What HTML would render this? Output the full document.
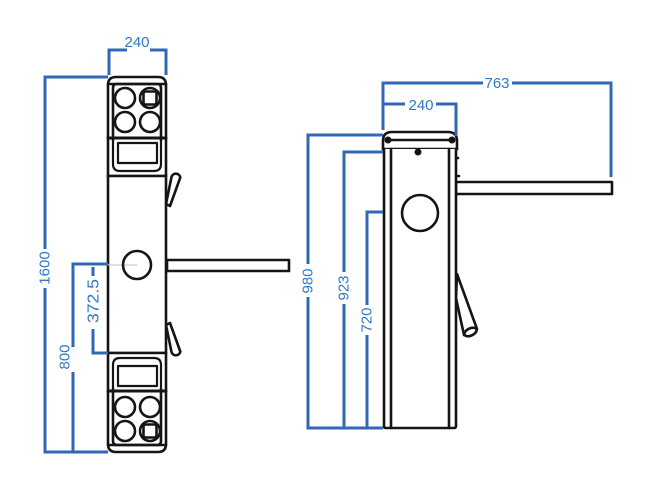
<!DOCTYPE html>
<html><head><meta charset="utf-8"><style>
html,body{margin:0;padding:0;background:#fff;}
svg{display:block;}
text{font-family:"Liberation Sans",sans-serif;font-size:15px;fill:#2f78c4;}
</style></head><body>
<svg width="650" height="500" viewBox="0 0 650 500" xmlns="http://www.w3.org/2000/svg">
<rect width="650" height="500" fill="#fff"/>
<!-- ===== LEFT DEVICE ===== -->
<g fill="none" stroke="#151515" stroke-width="2.6" stroke-linejoin="round" stroke-linecap="round">
  <!-- upper arm -->
  <path d="M166,204 L171.5,177 A4.5,4.5 0 0 1 180.3,177.5 L170,206 Z" fill="#fff"/>
  <!-- lower arm -->
  <path d="M166,325 L171.5,352 A4.5,4.5 0 0 0 180.3,351.5 L170,323 Z" fill="#fff"/>
  <!-- horizontal arm -->
  <rect x="167" y="260" width="122" height="11" fill="#fff"/>
  <!-- upper head -->
  <path d="M108,176 L108,85 Q108,77 116,77 L158,77 Q166,77 166,85 L166,176" fill="#fff"/>
  <path d="M113,140 L113,88 Q113,84 117,84 L157,84 Q161,84 161,88 L161,140"/>
  <line x1="108" y1="84" x2="166" y2="84"/>
  <circle cx="125" cy="98" r="10"/>
  <circle cx="150" cy="98" r="10"/>
  <rect x="143.5" y="91.5" width="13" height="13" rx="2"/>
  <circle cx="125" cy="122" r="10"/>
  <circle cx="150" cy="122" r="10"/>
  <line x1="108" y1="138" x2="166" y2="138" stroke-width="3"/>
  <rect x="118" y="143" width="39" height="20" stroke-width="2.2"/>
  <path d="M113,140 L113,164 Q113,171 120,171 L154,171 Q161,171 161,164 L161,140" stroke-width="2.2"/>
  <line x1="108" y1="176" x2="166" y2="176"/>
  <!-- body -->
  <rect x="108" y="176" width="58" height="177" fill="#fff"/>
  <line x1="108" y1="265" x2="137" y2="265" stroke="#cfcfcf" stroke-width="1.2"/>
  <circle cx="137" cy="265" r="14"/>
  <!-- lower head -->
  <path d="M108,353 L108,444 Q108,452 116,452 L158,452 Q166,452 166,444 L166,353" fill="#fff"/>
  <path d="M113,389 L113,441 Q113,445 117,445 L157,445 Q161,445 161,441 L161,389"/>
  <line x1="108" y1="445" x2="166" y2="445"/>
  <circle cx="125" cy="431" r="10"/>
  <circle cx="150" cy="431" r="10"/>
  <rect x="143.5" y="424.5" width="13" height="13" rx="2"/>
  <circle cx="125" cy="407" r="10"/>
  <circle cx="150" cy="407" r="10"/>
  <line x1="108" y1="391" x2="166" y2="391" stroke-width="3"/>
  <rect x="118" y="366" width="39" height="20" stroke-width="2.2"/>
  <path d="M113,389 L113,365 Q113,358 120,358 L154,358 Q161,358 161,365 L161,389" stroke-width="2.2"/>
  <line x1="108" y1="353" x2="166" y2="353"/>
</g>

<!-- left dimensions -->
<g fill="none" stroke="#3068b6" stroke-width="3" stroke-linejoin="miter">
  <path d="M109,75 L109,50 L127,50"/>
  <path d="M150,50 L166,50 L166,75"/>
  <path d="M108,77 L45,77 L45,249"/>
  <path d="M45,288 L45,452 L108,452"/>
  <path d="M108,264 L73,264 L73,347"/>
  <path d="M73,372 L73,452"/>
  <path d="M93,267 L93,276"/>
  <path d="M93,329 L93,353 L108,353"/>
</g>
<text x="137" y="47" text-anchor="middle">240</text>
<text transform="translate(45,268) rotate(-90)" text-anchor="middle" dominant-baseline="central">1600</text>
<text transform="translate(65,357) rotate(-90)" text-anchor="middle" dominant-baseline="central">800</text>
<text transform="translate(94,301) rotate(-90)" text-anchor="middle" dominant-baseline="central" textLength="44" lengthAdjust="spacingAndGlyphs" style="font-size:16px">372.5</text>

<!-- ===== RIGHT DEVICE ===== -->
<g fill="none" stroke="#151515" stroke-width="2.6" stroke-linejoin="round" stroke-linecap="round">
  <!-- horizontal arm -->
  <rect x="456" y="182" width="156" height="12" fill="#fff"/>
  <line x1="456" y1="176" x2="459" y2="176"/>
  <!-- lower diagonal arm -->
  <path d="M457,274 L477,329 L464,335 L456,298 Z" fill="#fff"/>
  <ellipse cx="470.5" cy="332" rx="6.5" ry="3.6" transform="rotate(-25 470.5 332)" fill="#fff"/>
  <!-- cap -->
  <path d="M383,149 L383,141 Q383,132 392,132 L448,132 Q457,132 457,141 L457,149" fill="#fff"/>
  <line x1="388" y1="140" x2="452" y2="140"/>
  <circle cx="388" cy="140" r="2.2"/>
  <circle cx="452" cy="140" r="2.2"/>
  <line x1="383" y1="149" x2="457" y2="149"/>
  <!-- body -->
  <path d="M384,149 L384,426 Q384,428 386,428 L454,428 Q456,428 456,426 L456,149" fill="#fff"/>
  <line x1="391" y1="149" x2="391" y2="428"/>
  <line x1="449" y1="149" x2="449" y2="428"/>
  <line x1="456" y1="158" x2="458" y2="158"/>
  <circle cx="418" cy="152" r="2.2" fill="#151515"/>
  <circle cx="420" cy="213" r="18"/>
</g>

<!-- right dimensions -->
<g fill="none" stroke="#3068b6" stroke-width="3" stroke-linejoin="miter">
  <path d="M383,130 L383,83 L483,83"/>
  <path d="M512,83 L611,83 L611,177"/>
  <path d="M384,104 L405,104"/>
  <path d="M436,104 L456,104 L456,136"/>
  <path d="M383,135 L308,135 L308,264"/>
  <path d="M308,297 L308,428 L383,428"/>
  <path d="M383,152 L344,152 L344,272"/>
  <path d="M344,304 L344,428"/>
  <path d="M383,212 L367,212 L367,305"/>
  <path d="M367,335 L367,428"/>
</g>
<text x="497" y="88" text-anchor="middle">763</text>
<text x="421" y="110" text-anchor="middle">240</text>
<text transform="translate(308,281) rotate(-90)" text-anchor="middle" dominant-baseline="central">980</text>
<text transform="translate(344,288) rotate(-90)" text-anchor="middle" dominant-baseline="central">923</text>
<text transform="translate(367,320) rotate(-90)" text-anchor="middle" dominant-baseline="central">720</text>
</svg>
</body></html>
